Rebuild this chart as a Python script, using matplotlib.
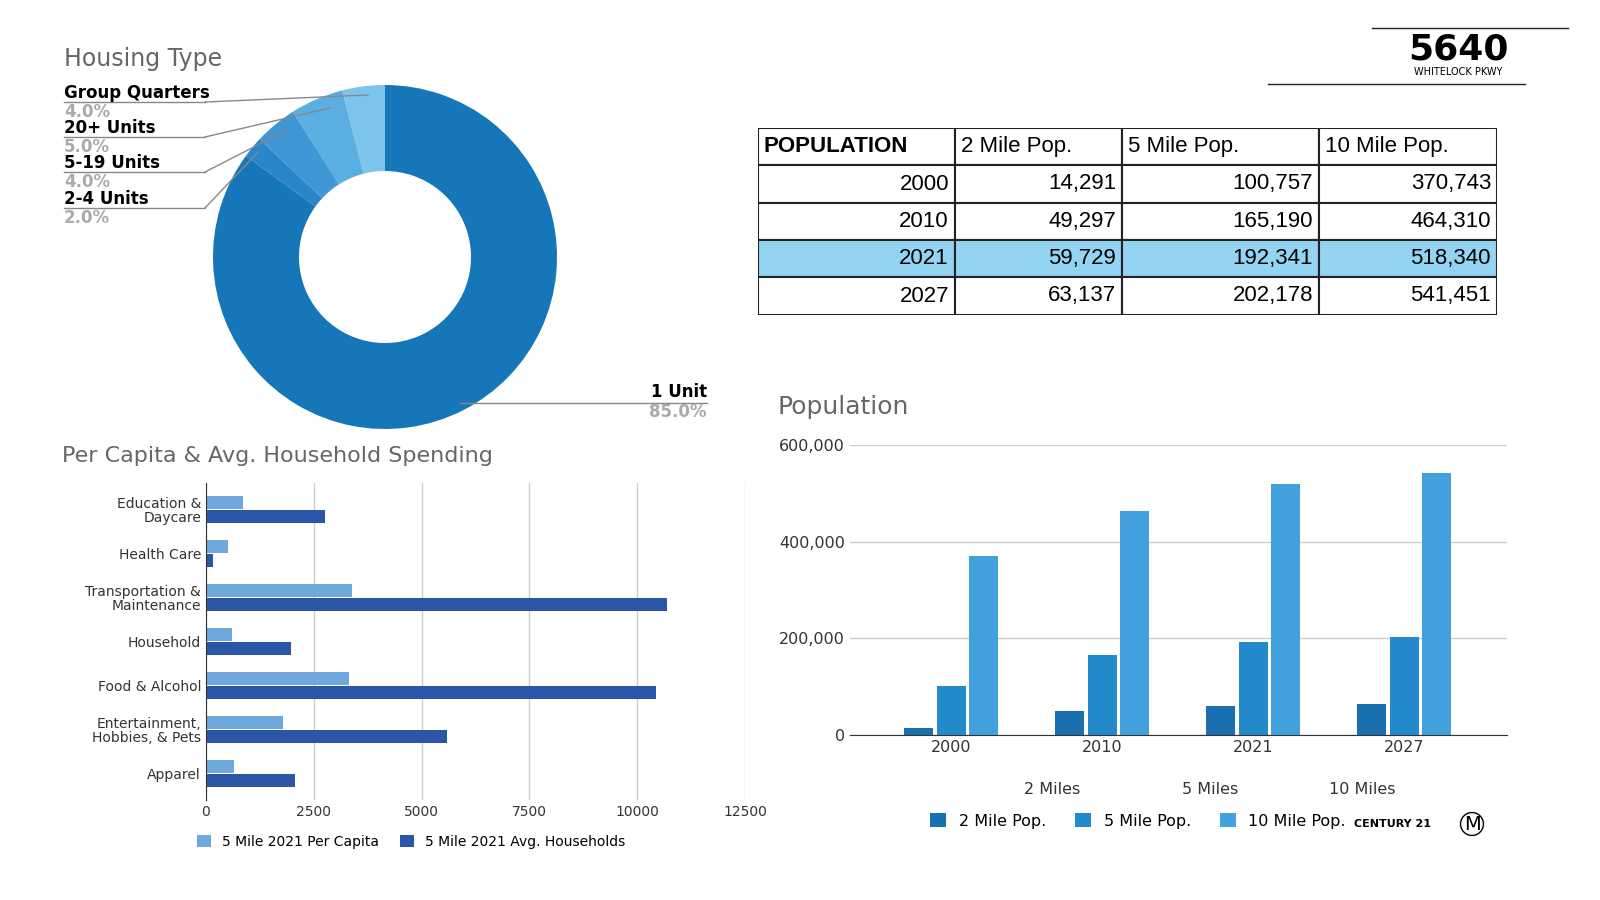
import matplotlib.pyplot as plt
from matplotlib.patches import Rectangle

plt.rcParams["font.family"] = "DejaVu Sans"

# housing type donut
housing_labels = ["Group Quarters", "20+ Units", "5-19 Units", "2-4 Units", "1 Unit"]
housing_pct = [4.0, 5.0, 4.0, 2.0, 85.0]
housing_colors = ["#7cc4ec", "#5aaee2", "#3f97d5", "#2a86c8", "#1576b8"]

# population table
table_header = ["POPULATION", "2 Mile Pop.", "5 Mile Pop.", "10 Mile Pop."]
years = ["2000", "2010", "2021", "2027"]
pop_2mi = [14291, 49297, 59729, 63137]
pop_5mi = [100757, 165190, 192341, 202178]
pop_10mi = [370743, 464310, 518340, 541451]

# spending
spend_cats = ["Education &\nDaycare", "Health Care", "Transportation &\nMaintenance",
              "Household", "Food & Alcohol", "Entertainment,\nHobbies, & Pets", "Apparel"]
per_capita = [850, 520, 3380, 600, 3320, 1780, 650]
avg_household = [2760, 160, 10680, 1960, 10440, 5600, 2060]

fig = plt.figure(figsize=(16, 9), dpi=100)
W, H = 1600, 900


def ax_px(x0, y0, x1, y1):
    return fig.add_axes([x0 / W, 1 - y1 / H, (x1 - x0) / W, (y1 - y0) / H])


# ---- donut
ax = ax_px(213, 85, 557, 429)
wedges, _ = ax.pie(housing_pct, colors=housing_colors, startangle=90, counterclock=True,
                   wedgeprops=dict(width=0.5, linewidth=0))
ax.set_xlim(-1, 1)
ax.set_ylim(-1, 1)
ax.set_aspect("equal")
fig.text(64 / W, 1 - 59 / H, "Housing Type", fontsize=17, color="#666666", va="center")
label_y = [93, 128, 163, 199]
for i, (lab, pct) in enumerate(zip(housing_labels[:4], housing_pct[:4])):
    y = label_y[i]
    fig.text(64 / W, 1 - y / H, lab, fontsize=12, fontweight="bold", va="center")
    fig.text(64 / W, 1 - (y + 19) / H, f"{pct:.1f}%", fontsize=12, fontweight="bold",
             color="#aaaaaa", va="center")
    fig.add_artist(plt.Line2D([64 / W, 205 / W], [1 - (y + 9) / H] * 2, color="#888888", lw=1))
fig.add_artist(plt.Line2D([205 / W, 368 / W], [1 - 102 / H, 1 - 95 / H], color="#888888", lw=1))
fig.add_artist(plt.Line2D([205 / W, 330 / W], [1 - 137 / H, 1 - 108 / H], color="#888888", lw=1))
fig.add_artist(plt.Line2D([205 / W, 285 / W], [1 - 172 / H, 1 - 131 / H], color="#888888", lw=1))
fig.add_artist(plt.Line2D([205 / W, 258 / W], [1 - 208 / H, 1 - 152 / H], color="#888888", lw=1))
fig.add_artist(plt.Line2D([460 / W, 707 / W], [1 - 403 / H] * 2, color="#888888", lw=1))
fig.text(707 / W, 1 - 392 / H, housing_labels[4], fontsize=12, fontweight="bold", ha="right", va="center")
fig.text(707 / W, 1 - 412 / H, f"{housing_pct[4]:.1f}%", fontsize=12, fontweight="bold",
         color="#aaaaaa", ha="right", va="center")

# ---- table
tax = ax_px(758, 128, 1497, 315)
tax.set_xlim(758, 1497)
tax.set_ylim(315, 128)
tax.axis("off")
col_x = [758, 955, 1122, 1319, 1497]
row_y = [128, 165, 203, 240, 277, 315]
rows = [[y, f"{a:,}", f"{b:,}", f"{c:,}"] for y, a, b, c in zip(years, pop_2mi, pop_5mi, pop_10mi)]
for r in range(5):
    for c in range(4):
        fc = "#93d4f2" if r == 3 else "white"
        tax.add_patch(Rectangle((col_x[c], row_y[r]), col_x[c + 1] - col_x[c],
                                row_y[r + 1] - row_y[r], facecolor=fc, edgecolor="#222222", lw=1.5))
        ym = (row_y[r] + row_y[r + 1]) / 2
        if r == 0:
            tax.text(col_x[c] + 6, ym, table_header[c], fontsize=16, va="center",
                     fontfamily="Liberation Sans", fontweight="bold" if c == 0 else "normal")
        else:
            tax.text(col_x[c + 1] - 6, ym, rows[r - 1][c], fontsize=16, va="center", ha="right",
                     fontfamily="Liberation Sans")

# ---- spending bars
bax = ax_px(206, 483, 745, 800)
pos = list(range(len(spend_cats)))
bh = 0.28
bax.barh([p - bh / 2 - 0.02 for p in pos], per_capita, height=bh, color="#6fa8dc")
bax.barh([p + bh / 2 + 0.02 for p in pos], avg_household, height=bh, color="#2b56a8")
bax.set_ylim(len(spend_cats) - 0.4, -0.6)
bax.set_xlim(0, 12500)
bax.set_xticks([0, 2500, 5000, 7500, 10000, 12500])
bax.set_yticks(pos)
bax.set_yticklabels(spend_cats, fontsize=10, linespacing=1.0)
bax.tick_params(length=0, labelsize=10, colors="#333333")
bax.grid(axis="x", color="#cccccc", lw=1)
bax.set_axisbelow(True)
for s in ["top", "right", "bottom"]:
    bax.spines[s].set_visible(False)
bax.spines["left"].set_color("#333333")
fig.text(62 / W, 1 - 456 / H, "Per Capita & Avg. Household Spending", fontsize=16, color="#666666", va="center")
bax.legend(["5 Mile 2021 Per Capita", "5 Mile 2021 Avg. Households"], loc="upper center",
           bbox_to_anchor=(0.38, -0.07), ncol=2, frameon=False, fontsize=10,
           handlelength=1, handleheight=1, columnspacing=1.5)

# ---- population bars
pax = ax_px(850, 445, 1507, 735)
x = list(range(len(years)))
w = 0.19
pax.bar([i - 0.215 for i in x], pop_2mi, width=w, color="#1a6fae", label="2 Mile Pop.")
pax.bar(x, pop_5mi, width=w, color="#238acb", label="5 Mile Pop.")
pax.bar([i + 0.215 for i in x], pop_10mi, width=w, color="#42a0dc", label="10 Mile Pop.")
pax.set_xlim(-0.67, 3.68)
pax.set_ylim(0, 600000)
pax.set_yticks([0, 200000, 400000, 600000])
pax.yaxis.set_major_formatter(lambda v, p: f"{int(v):,}")
pax.set_xticks(x)
pax.set_xticklabels(years)
pax.tick_params(length=0, labelsize=11.5, colors="#333333")
pax.grid(axis="y", color="#cccccc", lw=1)
pax.set_axisbelow(True)
for s in ["top", "right", "left"]:
    pax.spines[s].set_visible(False)
pax.spines["bottom"].set_color("#333333")
fig.text(777 / W, 1 - 407 / H, "Population", fontsize=18, color="#666666", va="center")
for lab, xp in zip(["2 Miles", "5 Miles", "10 Miles"], [1052, 1210, 1362]):
    fig.text(xp / W, 1 - 789 / H, lab, fontsize=11.5, ha="center", va="center", color="#333333")
pax.legend(loc="center", bbox_to_anchor=(1138 / W, 1 - 821 / H), bbox_transform=fig.transFigure,
           ncol=3, frameon=False, fontsize=11.5, handlelength=1, handleheight=1, columnspacing=1.8)

# ---- header / logos
fig.add_artist(plt.Line2D([1372 / W, 1568 / W], [1 - 28 / H] * 2, color="#222222", lw=1))
fig.add_artist(plt.Line2D([1268 / W, 1525 / W], [1 - 84 / H] * 2, color="#222222", lw=1))
fig.text(1458 / W, 1 - 50 / H, "5640", fontsize=26, fontweight="bold", ha="center", va="center")
fig.text(1458 / W, 1 - 72 / H, "WHITELOCK PKWY", fontsize=7, ha="center", va="center")
fig.text(1392 / W, 1 - 824 / H, "CENTURY 21", fontsize=8, fontweight="bold", ha="center", va="center")
fig.text(1472 / W, 1 - 824 / H, "M", fontsize=14, ha="center", va="center",
         bbox=dict(boxstyle="circle,pad=0.1", fc="white", ec="black"))

fig.savefig("out.png", dpi=100)
